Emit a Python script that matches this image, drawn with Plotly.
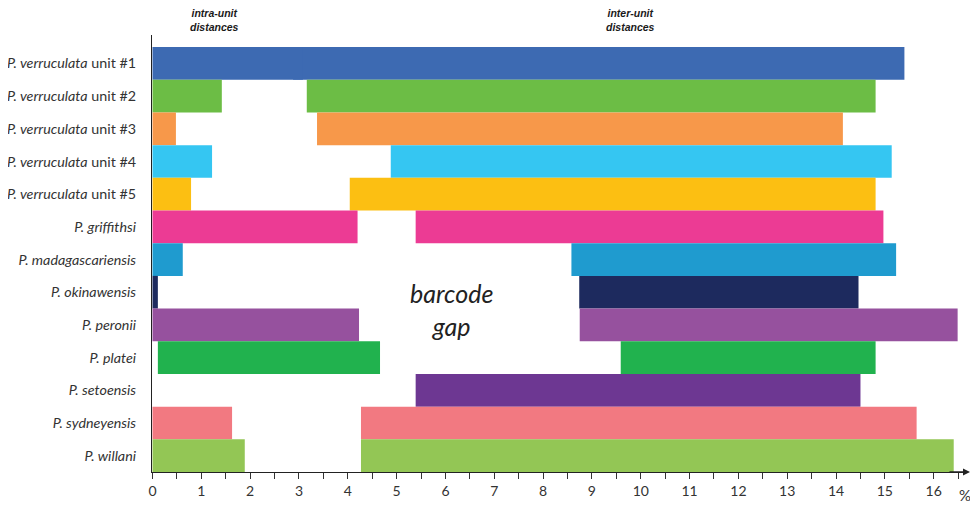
import plotly.graph_objects as go

species = [
    "<i>P. verruculata</i> unit #1",
    "<i>P. verruculata</i> unit #2",
    "<i>P. verruculata</i> unit #3",
    "<i>P. verruculata</i> unit #4",
    "<i>P. verruculata</i> unit #5",
    "<i>P. griffithsi</i>",
    "<i>P. madagascariensis</i>",
    "<i>P. okinawensis</i>",
    "<i>P. peronii</i>",
    "<i>P. platei</i>",
    "<i>P. setoensis</i>",
    "<i>P. sydneyensis</i>",
    "<i>P. willani</i>",
]
intra_start = [0.0, 0.0, 0.0, 0.0, 0.0, 0.0, 0.0, 0.0, 0.0, 0.11, None, 0.0, 0.0]
intra_end = [3.08, 1.42, 0.48, 1.22, 0.79, 4.20, 0.62, 0.11, 4.23, 4.66, None, 1.63, 1.89]
inter_start = [2.88, 3.16, 3.37, 4.88, 4.04, 5.39, 8.58, 8.74, 8.75, 9.59, 5.39, 4.27, 4.27]
inter_end = [15.40, 14.81, 14.14, 15.14, 14.81, 14.97, 15.23, 14.46, 16.49, 14.81, 14.50, 15.65, 16.41]
colors = ["#3D6AB2", "#6CBD45", "#F7984A", "#35C6F2", "#FCBF12", "#EC3B94", "#1F9BCF",
          "#1D2A5E", "#96519E", "#21B24E", "#6D3792", "#F27981", "#93C655"]
x_ticks = list(range(0, 17))

rows = list(range(len(species)))

intra_len = [None if s is None else e - s for s, e in zip(intra_start, intra_end)]
inter_len = [e - s for s, e in zip(inter_start, inter_end)]

fig = go.Figure()
fig.add_trace(go.Bar(orientation="h", y=rows, x=inter_len, base=inter_start, width=1,
                     marker=dict(color=colors, line=dict(width=0)), showlegend=False))
fig.add_trace(go.Bar(orientation="h", y=rows, x=intra_len, base=intra_start, width=1,
                     marker=dict(color=colors, line=dict(width=0)), showlegend=False))

fig.update_layout(
    width=970, height=498,
    margin=dict(l=144, r=15, t=27, b=34),
    plot_bgcolor="white", paper_bgcolor="white",
    barmode="overlay",
    font=dict(family="Lato, Open Sans, sans-serif", size=14, color="#333"),
    xaxis=dict(range=[-0.01, 16.6], tickvals=x_ticks, showgrid=False, zeroline=False,
               showline=True, linecolor="#222", linewidth=1.2, automargin=False,
               ticks="outside", ticklen=6, tickcolor="#333", tickwidth=1,
               minor=dict(dtick=0.5, tick0=0, ticks="outside", ticklen=6, tickcolor="#333"),
               tickfont=dict(size=14, color="#333")),
    yaxis=dict(range=[12.5, -0.87], tickvals=rows, ticktext=species, showgrid=False,
               zeroline=False, showline=True, linecolor="#222", linewidth=1.2, automargin=False,
               ticks="", ticklabelstandoff=12, tickfont=dict(size=14.3, color="#333")),
)

fig.add_annotation(x=1.0086, y=0, xref="paper", yref="paper", axref="pixel", ayref="pixel",
                   ax=-22, ay=0, showarrow=True, arrowhead=2, arrowsize=1, arrowwidth=1.4,
                   arrowcolor="#222", text="")
fig.add_annotation(x=1.0025, y=-0.027, xref="paper", yref="paper", text="%", showarrow=False,
                   yanchor="top", xanchor="center", font=dict(size=15, color="#333"))
hdr_font = dict(family="Liberation Sans Narrow, Liberation Sans, Arial", size=10.5, color="#1a1a1a")
fig.add_annotation(x=1.28, y=1.034, xref="x", yref="paper", text="<b><i>intra-unit<br>distances</i></b>",
                   showarrow=False, font=hdr_font, yanchor="middle")
fig.add_annotation(x=9.78, y=1.034, xref="x", yref="paper", text="<b><i>inter-unit<br>distances</i></b>",
                   showarrow=False, font=hdr_font, yanchor="middle")
fig.add_annotation(x=6.13, y=7.54, xref="x", yref="y", text="<i>barcode<br>gap</i>",
                   showarrow=False, font=dict(family="Lato, Open Sans", size=25, color="#222"),
                   yanchor="middle")

fig.write_html("out.html")
